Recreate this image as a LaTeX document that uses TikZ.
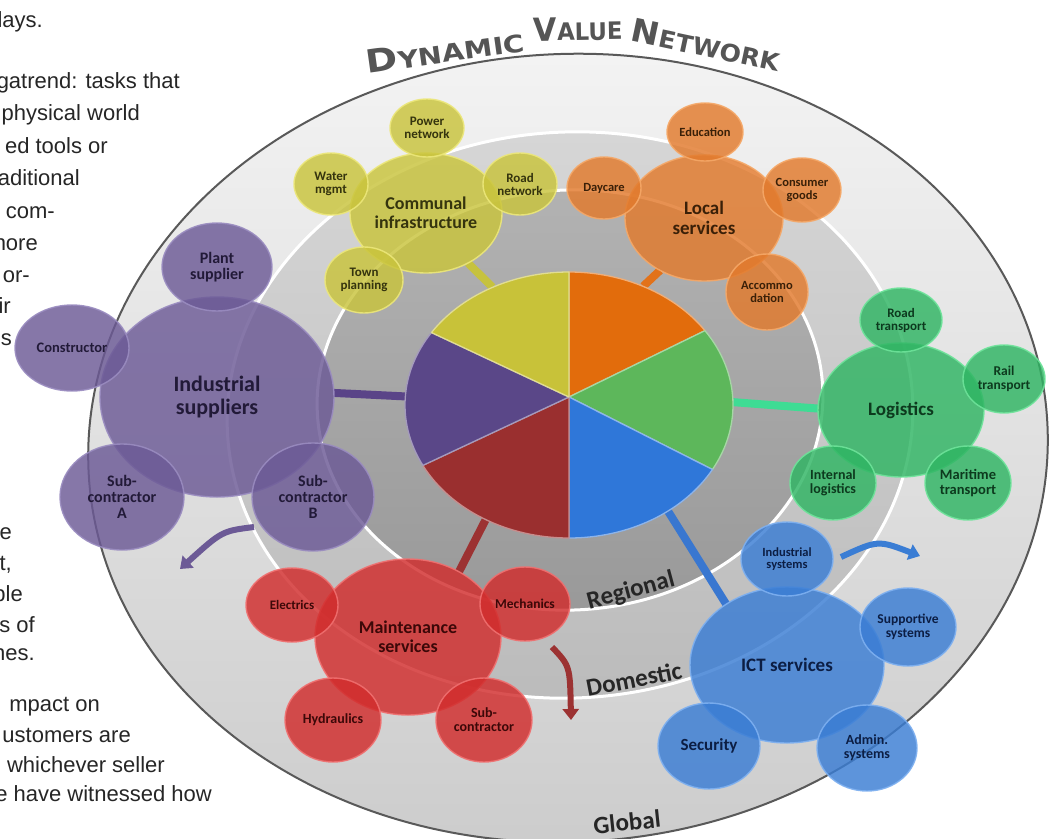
\documentclass[tikz,border=0pt]{standalone}
\usepackage{fontspec}
\usepackage{graphicx}
\setmainfont{Carlito}
\newfontfamily\bodyfont{Liberation Sans}
\newfontfamily\titlefont{DejaVu Sans}
\usetikzlibrary{shapes.geometric,arrows.meta,calc}
\pgfdeclarelayer{back}
\pgfdeclarelayer{mid}
\pgfsetlayers{back,mid,main}

\definecolor{yF}{HTML}{C9C43C}\definecolor{yR}{HTML}{ECE77A}\definecolor{yT}{HTML}{35340E}
\definecolor{oF}{HTML}{E27A2C}\definecolor{oR}{HTML}{F5A868}\definecolor{oT}{HTML}{3A2008}
\definecolor{pF}{HTML}{6C5A96}\definecolor{pR}{HTML}{9A8CC0}\definecolor{pT}{HTML}{221A38}
\definecolor{gF}{HTML}{2FB563}\definecolor{gR}{HTML}{6EE39A}\definecolor{gT}{HTML}{0D3A1E}
\definecolor{rF}{HTML}{D12C2C}\definecolor{rR}{HTML}{F07070}\definecolor{rT}{HTML}{3C0808}
\definecolor{bF}{HTML}{3A7DD4}\definecolor{bR}{HTML}{7EB0F0}\definecolor{bT}{HTML}{0C1E44}
\definecolor{pieY}{HTML}{C8C239}\definecolor{pieO}{HTML}{E26C0C}\definecolor{pieG}{HTML}{5DB75B}
\definecolor{pieB}{HTML}{2F77D9}\definecolor{pieR}{HTML}{9A2F2F}\definecolor{pieP}{HTML}{5A4788}
\definecolor{cY}{HTML}{C6C23E}\definecolor{cO}{HTML}{E2721A}\definecolor{cG}{HTML}{3EDC94}
\definecolor{cB}{HTML}{3977D0}\definecolor{cR}{HTML}{9C3232}\definecolor{cP}{HTML}{5A4488}
\definecolor{ringA1}{HTML}{F3F3F3}\definecolor{ringA2}{HTML}{CCCCCC}
\definecolor{ringB1}{HTML}{D6D6D6}\definecolor{ringB2}{HTML}{BBBBBB}
\definecolor{ringC1}{HTML}{B2B2B2}\definecolor{ringC2}{HTML}{999999}
\definecolor{titlegray}{HTML}{555555}

\newcommand\tbig{\fontsize{32}{32}\selectfont}
\newcommand\tsmall{\fontsize{24}{24}\selectfont}

\begin{document}
\begin{tikzpicture}[x=1pt,y=-1pt,
  bub/.style={ellipse, inner sep=0pt, outer sep=0pt, fill opacity=0.82, draw opacity=0.9,
    text opacity=1, align=center, line width=1.4pt},
  sz/.style 2 args={minimum width=#1pt, minimum height=#2pt},
  f/.style={font=\bfseries\fontsize{#1}{#1}\selectfont},
  yc/.style={bub, fill=yF, draw=yR, text=yT},
  oc/.style={bub, fill=oF, draw=oR, text=oT},
  pc/.style={bub, fill=pF, draw=pR, text=pT},
  gc/.style={bub, fill=gF, draw=gR, text=gT},
  rc/.style={bub, fill=rF, draw=rR, text=rT},
  bc/.style={bub, fill=bF, draw=bR, text=bT},
  conn/.style={line width=8pt},
  carrow/.style={line width=6pt, -{Triangle[length=11pt,width=16pt]}},
  bodyt/.style={anchor=base east, inner sep=0pt, font=\bodyfont\fontsize{22}{22}\selectfont, text=black!85},
  ringlbl/.style={font=\bfseries\fontsize{25}{25}\selectfont, text=black!85, inner sep=0pt},
  titlef/.style={font=\titlefont\bfseries, text=titlegray, inner sep=0pt}]
\useasboundingbox (0,0) rectangle (1051,838);

\begin{pgfonlayer}{back}
  \fill[white] (0,0) rectangle (1051,838);
  \shadedraw[top color=ringA1, bottom color=ringA2, draw=black!65, line width=2pt,
    rotate around={3:(568,448)}] (568,448) ellipse [x radius=480, y radius=394];
  \shadedraw[top color=ringB1, bottom color=ringB2, draw=white, line width=3pt,
    rotate around={3:(570,415)}] (570,415) ellipse [x radius=343, y radius=283];
  \shadedraw[top color=ringC1, bottom color=ringC2, draw=white, line width=3pt,
    rotate around={3:(570,400)}] (570,400) ellipse [x radius=253, y radius=210];
\end{pgfonlayer}

% left body text (visible fragments)
\node[bodyt] (t1) at (43,27) {lays.};
\node[bodyt] (t2) at (180,88) {gatrend: tasks that};
\node[bodyt] (t3) at (140,120) {physical world};
\node[bodyt] (t4) at (108,153) {ed tools or};
\node[bodyt] (t5) at (80,185) {aditional};
\node[bodyt] (t6) at (55,218) {com-};
\node[bodyt] (t7) at (38,250) {nore};
\node[bodyt] (t8) at (30,282) {or-};
\node[bodyt] (t9) at (11,313) {ir};
\node[bodyt] (t10) at (12,345) {s};
\node[bodyt] (t11) at (12,539) {e};
\node[bodyt] (t12) at (12,570) {t,};
\node[bodyt] (t13) at (23,601) {ble};
\node[bodyt] (t14) at (35,632) {s of};
\node[bodyt] (t15) at (35,660) {nes.};
\node[bodyt] (t16) at (100,711) {mpact on};
\node[bodyt] (t17) at (131,742) {ustomers are};
\node[bodyt] (t18) at (165,772) {whichever seller};
\node[bodyt] (t19) at (212,801) {e have witnessed how};

% title
\node[titlef, rotate=8] (tt1) at (445,51) {\scalebox{1.2}[1]{\tbig D\tsmall YNAMIC}};
\node[titlef, rotate=1] (tt2) at (578,29) {\scalebox{0.95}[1]{\tbig V\tsmall ALUE}};
\node[titlef, rotate=-12] (tt3) at (706,45) {\scalebox{1.05}[1]{\tbig N\tsmall ETWORK}};

% ring labels
\node[ringlbl, rotate=15] (lreg) at (631,591) {Regional};
\node[ringlbl, rotate=11] (ldom) at (634,679) {Domestic};
\node[ringlbl, rotate=6] (lglo) at (627,822) {Global};

% pie
\coordinate (V) at (569,397);
\coordinate (E) at (569,405);
\node[ellipse, minimum width=328pt, minimum height=266pt, inner sep=0pt] (pie) at (E) {};
\foreach \a/\b/\c in {-90/-34/pieO, -34/29/pieG, 29/90/pieB, 90/153/pieR, 153/213/pieP, 213/270/pieY}{
  \fill[\c] (V) -- ($(E)+(\a:164 and 133)$) arc[start angle=\a, end angle=\b, x radius=164, y radius=133] -- cycle;
  \draw[\c!55!white, line width=1.3pt, line join=round] (V) -- ($(E)+(\a:164 and 133)$) arc[start angle=\a, end angle=\b, x radius=164, y radius=133] -- cycle;
}

% Communal infrastructure
\node[yc, sz={152}{120}, f=18] (com) at (426,213) {Communal\\[1pt]infrastructure};
\node[yc, sz={74}{58}, f=13] (pow) at (427,128) {Power\\network};
\node[yc, sz={74}{62}, f=13] (wat) at (331,184) {Water\\mgmt};
\node[yc, sz={74}{62}, f=13] (rdn) at (520,184) {Road\\network};
\node[yc, sz={78}{66}, f=13] (twn) at (364,280) {Town\\planning};

% Local services
\node[oc, sz={158}{126}, f=19] (loc) at (704,218) {Local\\[1pt]services};
\node[oc, sz={76}{58}, f=12.5] (edu) at (705,132) {Education};
\node[oc, sz={74}{62}, f=12.5] (day) at (604,188) {Daycare};
\node[oc, sz={78}{64}, f=12.5] (cons) at (802,190) {Consumer\\goods};
\node[oc, sz={82}{76}, f=12.5] (acc) at (767,292) {Accommo\\dation};

% Industrial suppliers
\node[pc, sz={234}{200}, f=22] (ind) at (217,397) {Industrial\\[1pt]suppliers};
\node[pc, sz={110}{88}, f=16] (pls) at (217,267) {Plant\\supplier};
\node[pc, sz={114}{86}, f=14.5] (con) at (72,348) {Constructor};
\node[pc, sz={124}{106}, f=16] (sba) at (122,497) {Sub-\\contractor\\A};
\node[pc, sz={122}{108}, f=16] (sbb) at (313,497) {Sub-\\contractor\\B};

% Logistics
\node[gc, sz={166}{134}, f=19] (log) at (901,410) {Logistics};
\node[gc, sz={82}{64}, f=13] (rtr) at (901,320) {Road\\transport};
\node[gc, sz={82}{68}, f=13.5] (rail) at (1004,379) {Rail\\transport};
\node[gc, sz={86}{74}, f=14] (intl) at (833,483) {Internal\\logistics};
\node[gc, sz={86}{74}, f=14.5] (mar) at (968,483) {Maritime\\transport};

% ICT services
\node[bc, sz={194}{156}, f=19] (ict) at (787,665) {ICT services};
\node[bc, sz={92}{74}, f=12.5] (isy) at (787,559) {Industrial\\systems};
\node[bc, sz={96}{78}, f=13.5] (sup) at (908,627) {Supportive\\systems};
\node[bc, sz={102}{86}, f=17] (sec) at (709,746) {Security};
\node[bc, sz={100}{86}, f=14] (adm) at (867,748) {Admin.\\systems};

% Maintenance services
\node[rc, sz={186}{156}, f=18] (mnt) at (408,637) {Maintenance\\[1pt]services};
\node[rc, sz={92}{74}, f=13] (ele) at (292,605) {Electrics};
\node[rc, sz={90}{74}, f=13.5] (mec) at (525,604) {Mechanics};
\node[rc, sz={96}{84}, f=14] (hyd) at (333,720) {Hydraulics};
\node[rc, sz={96}{84}, f=14] (sbc) at (484,720) {Sub-\\contractor};

% connectors
\begin{pgfonlayer}{mid}
  \draw[conn, cY] (pie.123) -- (com.-50);
  \draw[conn, cO] (pie.58) -- (loc.-130);
  \draw[conn, cG] (pie.1) -- (log.179);
  \draw[conn, cB] (pie.-47) -- (ict.135);
  \draw[conn, cR] (pie.-126) -- (mnt.52);
  \draw[conn, cP] (pie.177) -- (ind.2);
\end{pgfonlayer}

% movement arrows
\coordinate (pa1) at (254,527); \coordinate (pa2) at (180,569);
\coordinate (ra1) at (552,647); \coordinate (ra2) at (571,720);
\coordinate (ba1) at (841,557); \coordinate (ba2) at (920,556);
\draw[carrow, pF] (pa1) .. controls (222,531) .. (pa2);
\draw[carrow, cR] (ra1) .. controls (570,666) .. (ra2);
\draw[carrow, bF] (ba1) .. controls (878,540) .. (ba2);
\end{tikzpicture}
\end{document}
